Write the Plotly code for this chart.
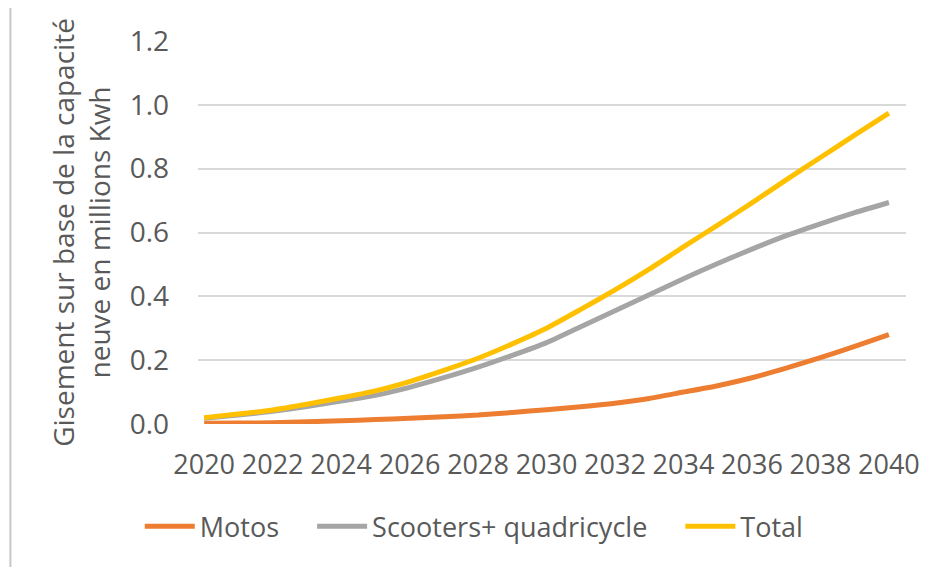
import plotly.graph_objects as go

years = list(range(2020, 2041))
motos = [0.002, 0.003, 0.004, 0.007, 0.010, 0.014, 0.018, 0.023, 0.028, 0.036, 0.045,
         0.054, 0.065, 0.080, 0.100, 0.120, 0.145, 0.175, 0.208, 0.243, 0.280]
scooters = [0.018, 0.028, 0.040, 0.055, 0.072, 0.090, 0.115, 0.145, 0.178, 0.215, 0.255,
            0.305, 0.355, 0.405, 0.455, 0.503, 0.548, 0.590, 0.627, 0.662, 0.694]
total = [0.020, 0.031, 0.044, 0.062, 0.082, 0.104, 0.133, 0.168, 0.206, 0.251, 0.300,
         0.359, 0.420, 0.485, 0.555, 0.623, 0.693, 0.765, 0.835, 0.905, 0.974]
x_ticks = list(range(2020, 2041, 2))
y_ticks = [0.0, 0.2, 0.4, 0.6, 0.8, 1.0, 1.2]

FONT = "Open Sans"
TXT = "#595959"
PAD = "\u00a0" * 4

fig = go.Figure()
for name, vals, col in [("Motos", motos, "#ED7D31"),
                        ("Scooters+ quadricycle", scooters, "#A5A5A5"),
                        ("Total", total, "#FFC000")]:
    fig.add_trace(go.Scatter(x=years, y=vals, name=name + PAD, mode="lines",
                             line=dict(color=col, width=5, shape="spline", smoothing=0.6)))

fig.update_layout(
    width=930, height=567,
    margin=dict(l=190, r=32, t=33, b=151, autoexpand=False),
    paper_bgcolor="white", plot_bgcolor="white",
    font=dict(family=FONT, size=27, color=TXT),
    showlegend=True,
    legend=dict(orientation="h", x=0.41, xanchor="center", yref="container", y=0.085,
                yanchor="middle", font=dict(size=27, color=TXT), itemwidth=50,
                tracegroupgap=0),
    xaxis=dict(range=[2019.82, 2040.5], tickvals=x_ticks, ticktext=[str(t) for t in x_ticks],
               showgrid=False, zeroline=False, showline=False, ticks="", automargin=False,
               ticklabelstandoff=22, tickfont=dict(size=27, color=TXT)),
    yaxis=dict(range=[0, 1.2], tickvals=y_ticks, ticktext=[f"{v:.1f}" for v in y_ticks],
               showgrid=True, gridcolor="#D9D9D9", gridwidth=1.5, zeroline=False,
               showline=False, ticks="", ticklabelstandoff=28, automargin=False,
               tickfont=dict(size=28, color=TXT),
               title=dict(text="Gisement sur base de la capacité<br>neuve en millions Kwh",
                          font=dict(size=28, color=TXT), standoff=10)),
    shapes=[dict(type="line", xref="paper", yref="paper", x0=-0.265, x1=-0.265,
                 y0=-0.43, y1=1.1, line=dict(color="#C8C8C8", width=2))],
)

fig.write_html("out.html")
